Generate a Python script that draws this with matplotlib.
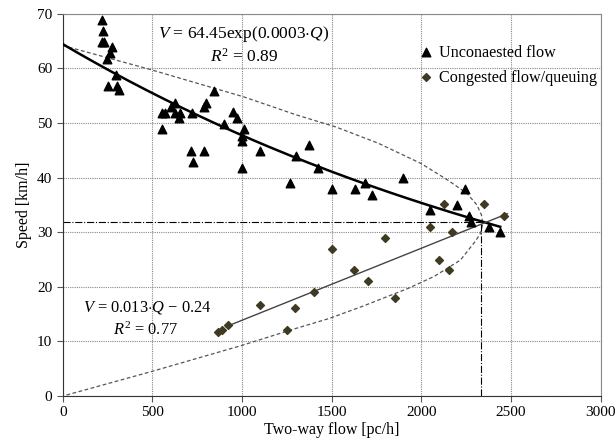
import numpy as np
import matplotlib.pyplot as plt
from matplotlib.patches import Rectangle

plt.rcParams['font.family'] = ['Liberation Serif', 'DejaVu Serif']
plt.rcParams['mathtext.fontset'] = 'custom'
plt.rcParams['mathtext.rm'] = 'Liberation Serif'
plt.rcParams['mathtext.it'] = 'Liberation Serif:italic'

# uncongested flow observations (flow pc/h, speed km/h)
unc_q = [221, 225, 221, 231, 276, 262, 249, 298, 254, 304, 313,
         844, 799, 786, 625, 603, 551, 570, 628, 652, 647, 720, 951, 969,
         899, 555, 1009, 1000, 1000, 716, 790, 725, 1101, 1000, 1302, 1265,
         1372, 1425, 1500, 1632, 1683, 1727, 1897, 2047,
         2245, 2200, 2264, 2277, 2379, 2441]
unc_v = [68.9, 66.9, 64.9, 64.9, 64.0, 62.9, 61.7, 58.8, 56.7, 56.7, 56.1,
         55.8, 53.7, 52.9, 53.7, 52.9, 51.9, 51.9, 51.9, 51.9, 50.9, 51.9, 52.0, 50.9,
         49.8, 48.9, 48.9, 47.6, 46.8, 44.9, 44.9, 42.9, 44.9, 41.8, 43.9, 39.0,
         45.9, 41.8, 37.9, 37.9, 39.0, 36.9, 39.9, 34.0,
         37.9, 35.0, 33.0, 31.9, 30.9, 30.0]

# congested flow / queuing observations
con_q = [863, 890, 921, 1101, 1253, 1293, 1403, 1504, 1623, 1701, 1797, 1852,
         2049, 2099, 2126, 2157, 2172, 2350, 2460]
con_v = [11.8, 12.1, 13.0, 16.6, 12.1, 16.1, 19.0, 26.9, 23.0, 21.1, 29.0, 18.0,
         31.0, 25.0, 35.1, 23.0, 30.1, 35.1, 33.0]

# fitted curve for uncongested flow, from the printed equation
exp_a = 64.45
exp_b = 0.0003
exp_qmax = 2440

lin_q = [910, 2480]
lin_v = [12.7, 33.4]

# dashed speed-flow envelope
env_q = [0, 478, 1009, 1302, 1522, 1760, 1998, 2145, 2255, 2310, 2335, 2343,
         2330, 2300, 2218, 2071, 1925, 1669, 1485, 1302, 991, 496, 0]
env_v = [64.2, 59.9, 54.8, 51.5, 49.3, 46.3, 42.6, 39.6, 37.1, 35.0, 33.2, 31.6,
         29.8, 28.3, 24.9, 21.9, 19.7, 16.4, 14.2, 12.4, 9.2, 4.5, 0]

cap_q = 2331
cap_v = 31.8

fig = plt.figure(figsize=(6.16, 4.47), dpi=100)
ax = fig.add_axes([0.102, 0.114, 0.873, 0.855])

ax.grid(True, linestyle=(0, (1, 1)), color='#888888', linewidth=0.8, zorder=0)
# white block behind the legend hides the grid there
ax.add_patch(Rectangle((0.661, 0.783), 0.339, 0.217, transform=ax.transAxes,
                       facecolor='white', edgecolor='none', zorder=1))

ax.plot(env_q, env_v, linestyle=(0, (3, 2)), color='#555555', linewidth=0.9, zorder=2)
ax.plot([0, cap_q], [cap_v, cap_v], linestyle='-.', color='black', linewidth=0.8, zorder=2)
ax.plot([cap_q, cap_q], [0, cap_v], linestyle='-.', color='black', linewidth=0.8, zorder=2)

q_fit = np.linspace(0, exp_qmax, 200)
ax.plot(q_fit, exp_a * np.exp(-exp_b * q_fit), color='black', linewidth=1.8, zorder=3)
ax.plot(lin_q, lin_v, color='#444444', linewidth=1.0, zorder=3)

ax.scatter(unc_q, unc_v, marker='^', s=38, color='black', zorder=4,
           label='Unconaested flow')
ax.scatter(con_q, con_v, marker='D', s=16, color='#3f3a22', zorder=4,
           label='Congested flow/queuing')

ax.text(1011, 66.3, r'$V$ = 64.45exp(0.0003$\cdot Q$)', ha='center', va='center', fontsize=12.5)
ax.text(1011, 62.1, r'$R^2$ = 0.89', ha='center', va='center', fontsize=12.5)
ax.text(473, 16.3, r'$V$ = 0.013$\cdot Q$ $-$ 0.24', ha='center', va='center', fontsize=11.8)
ax.text(462, 12.1, r'$R^2$ = 0.77', ha='center', va='center', fontsize=11.8)

leg = ax.legend(loc='center left', bbox_to_anchor=(0.66, 0.866), frameon=False,
                fontsize=11.6, handletextpad=0.3, borderaxespad=0.0, borderpad=0.0,
                labelspacing=0.55, handlelength=1.0)
leg.set_zorder(5)

ax.set_xlim(0, 3000)
ax.set_ylim(0, 70)
ax.set_xticks(range(0, 3001, 500))
ax.set_yticks(range(0, 71, 10))
ax.tick_params(labelsize=11, direction='out', length=4, color='#555555')
ax.set_xlabel('Two-way flow [pc/h]', fontsize=11.5, labelpad=2)
ax.set_ylabel('Speed [km/h]', fontsize=11.5, labelpad=4)

for side in ['top', 'right']:
    ax.spines[side].set_color('#888888')
for side in ['left', 'bottom']:
    ax.spines[side].set_color('#333333')

fig.savefig('out.png', dpi=100)
